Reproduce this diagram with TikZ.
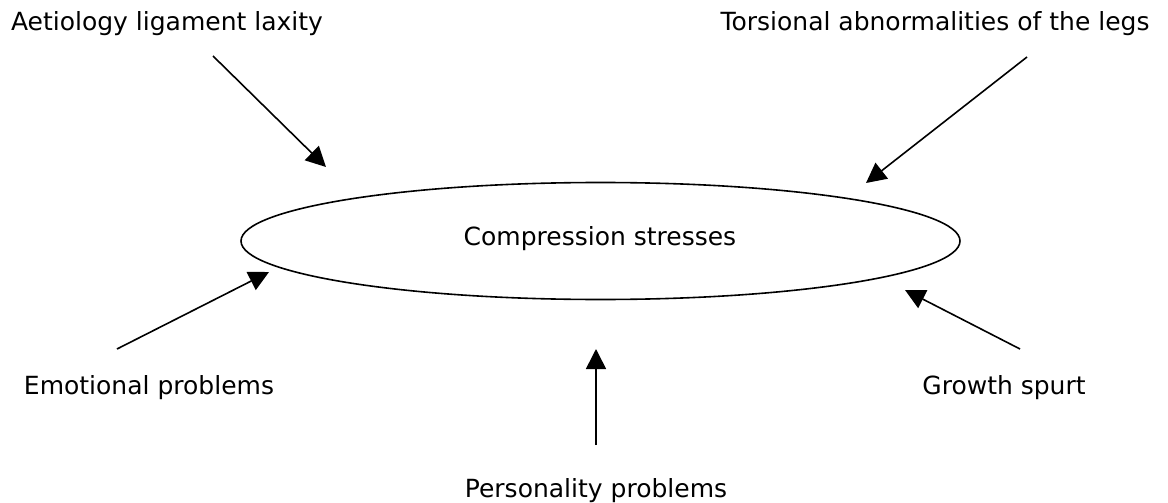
\documentclass[tikz,border=0pt]{standalone}
\usepackage{fontspec}
\setmainfont{DejaVu Sans}
\usetikzlibrary{arrows.meta,shapes.geometric}
\begin{document}
\begin{tikzpicture}[x=1pt,y=-1pt,
  lbl/.style={inner sep=0pt,anchor=base,font=\fontsize{25}{30}\selectfont},
  arr/.style={line width=1.6pt,-{Triangle[length=20pt,width=20pt]}}]
\useasboundingbox (0,0) rectangle (1168,503);
\node[draw,line width=1.6pt,ellipse,minimum width=719pt,minimum height=117pt,inner sep=0pt] (e) at (600.5,241) {};
\node[lbl] (c) at (600,245) {Compression stresses};
\node[lbl] (t1) at (167,31) {Aetiology ligament laxity};
\node[lbl] (t2) at (935,31) {Torsional abnormalities of the legs};
\node[lbl] (t3) at (149,394) {Emotional problems};
\node[lbl] (t4) at (1004,394) {Growth spurt};
\node[lbl] (t5) at (596,497) {Personality problems};
\coordinate (s1) at (213,56); \coordinate (e1) at (326,167);
\coordinate (s2) at (1027,57); \coordinate (e2) at (866,183);
\coordinate (s3) at (117,349); \coordinate (e3) at (269,272);
\coordinate (s4) at (1020,349); \coordinate (e4) at (905,290);
\coordinate (s5) at (596,445); \coordinate (e5) at (596,349);
\draw[arr] (s1) -- (e1);
\draw[arr] (s2) -- (e2);
\draw[arr] (s3) -- (e3);
\draw[arr] (s4) -- (e4);
\draw[arr] (s5) -- (e5);
\end{tikzpicture}
\end{document}
